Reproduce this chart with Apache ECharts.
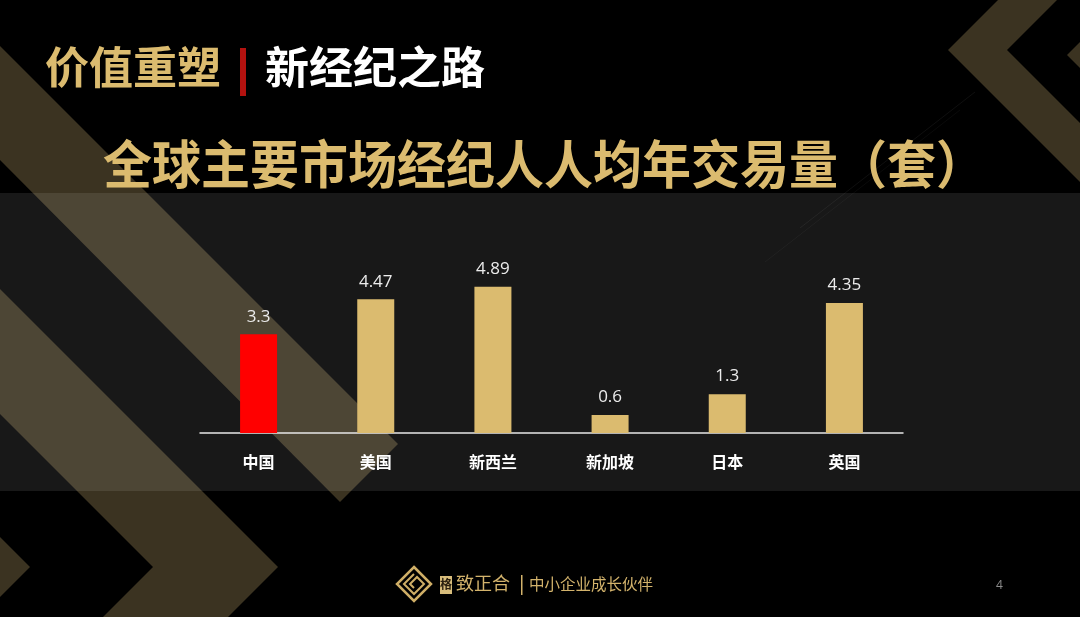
<!DOCTYPE html>
<html>
<head>
<meta charset="utf-8">
<title>全球主要市场经纪人人均年交易量</title>
<script src="https://cdn.jsdelivr.net/npm/echarts@6/dist/echarts.min.js"></script>
<style>
  html, body { margin: 0; padding: 0; background: #000; }
  #chart { width: 1080px; height: 617px; }
</style>
</head>
<body>
<div id="chart"></div>
<script>
// 数据
const countries = ["中国", "美国", "新西兰", "新加坡", "日本", "英国"];
const volumes = [3.3, 4.47, 4.89, 0.6, 1.3, 4.35];
const highlight = "中国";

const GOLD = "#dbbb6f";
const STRIPE = "#3b3321";
const CJK = "'Noto Sans CJK SC', 'Noto Sans', sans-serif";

const chart = echarts.init(document.getElementById("chart"));

// 背景装饰（斜条纹、灰色横带）
const deco = [
  // 左上斜条
  { type: "polygon", z: -3, shape: { points: [[0, 46], [398, 444], [340, 502], [0, 160]] }, style: { fill: STRIPE } },
  // 左下大箭头
  { type: "polygon", z: -3, shape: { points: [[0, 289], [278, 567], [228, 617], [103, 617], [153, 567], [0, 414]] }, style: { fill: STRIPE } },
  // 左下小箭头
  { type: "polygon", z: -3, shape: { points: [[0, 537], [30, 567], [0, 597]] }, style: { fill: STRIPE } },
  // 右上箭头
  { type: "polygon", z: -3, shape: { points: [[998, 0], [948, 50], [1080, 182], [1080, 123], [1007, 50], [1057, 0]] }, style: { fill: STRIPE } },
  { type: "polygon", z: -3, shape: { points: [[1080, 42], [1067, 55], [1080, 68]] }, style: { fill: STRIPE } },
  // 细线
  { type: "line", z: -3, shape: { x1: 800, y1: 228, x2: 975, y2: 92 }, style: { stroke: "rgba(255,255,255,0.06)", lineWidth: 1 } },
  { type: "line", z: -3, shape: { x1: 765, y1: 262, x2: 960, y2: 110 }, style: { stroke: "rgba(255,255,255,0.04)", lineWidth: 1 } },
  // 横带
  { type: "rect", z: -2, shape: { x: 0, y: 193, width: 1080, height: 298 }, style: { fill: "rgba(255,255,255,0.095)" } }
];

// 标题与页脚
const texts = [
  { type: "text", z: 10, left: 45, top: 45, style: { text: "价值重塑", fill: GOLD, font: "bold 44px " + CJK } },
  { type: "rect", z: 10, shape: { x: 240, y: 48, width: 6, height: 48 }, style: { fill: "#b3120f" } },
  { type: "text", z: 10, left: 265, top: 45, style: { text: "新经纪之路", fill: "#ffffff", font: "bold 44px " + CJK } },
  { type: "text", z: 10, left: 103, top: 138, scaleY: 1.06, style: { text: "全球主要市场经纪人人均年交易量（套）", fill: GOLD, font: "bold 49px " + CJK } },
  // logo
  { type: "polygon", z: 10, shape: { points: [[414, 567], [431, 584], [414, 601], [397, 584]] }, style: { fill: "none", stroke: "#cfae66", lineWidth: 2.5 } },
  { type: "polyline", z: 10, shape: { points: [[414, 574], [404, 584], [414, 594], [424, 584], [417, 577], [410, 584], [414, 588]] }, style: { fill: "none", stroke: "#cfae66", lineWidth: 2 } },
  { type: "rect", z: 10, shape: { x: 440, y: 576, width: 12, height: 18 }, style: { fill: "#d8bd7c" } },
  { type: "text", z: 11, left: 440, top: 578, style: { text: "格", fill: "#2a2010", font: "bold 12px " + CJK } },
  { type: "text", z: 10, left: 456, top: 574, style: { text: "致正合", fill: "#d3b36c", font: "18px " + CJK } },
  { type: "rect", z: 10, shape: { x: 521, y: 575, width: 1.5, height: 20 }, style: { fill: "#d3b36c" } },
  { type: "text", z: 10, left: 529, top: 576, style: { text: "中小企业成长伙伴", fill: "#d3b36c", font: "15.5px " + CJK } },
  { type: "text", z: 10, left: 996, top: 580, style: { text: "4", fill: "#8c8c8c", font: "12px 'Open Sans', sans-serif" } }
];

const option = {
  backgroundColor: "#000000",
  animation: false,
  graphic: { elements: deco.concat(texts) },
  grid: { left: 200, right: 177, top: 283.5, bottom: 184 },
  xAxis: {
    type: "category",
    data: countries,
    axisLine: { lineStyle: { color: "#e6e6e6", width: 1.5 } },
    axisTick: { show: false },
    axisLabel: {
      color: "#ffffff",
      fontSize: 16,
      fontWeight: "bold",
      fontFamily: CJK,
      margin: 21
    }
  },
  yAxis: {
    type: "value",
    min: 0,
    max: 5,
    show: false,
    splitLine: { show: false }
  },
  series: [
    {
      type: "bar",
      data: volumes,
      barWidth: 37,
      itemStyle: {
        color: function (p) {
          return p.name === highlight ? "#ff0000" : GOLD;
        }
      },
      label: {
        show: true,
        position: "top",
        distance: 9,
        color: "#ececec",
        fontSize: 17,
        fontFamily: "'Open Sans', 'Noto Sans', sans-serif"
      }
    }
  ]
};

chart.setOption(option);
</script>
</body>
</html>
